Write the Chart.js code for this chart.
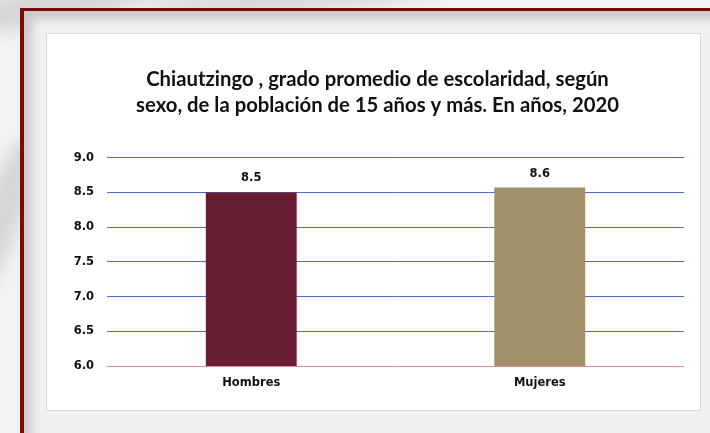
<!DOCTYPE html>
<html>
<head>
<meta charset="utf-8">
<script src="https://cdn.jsdelivr.net/npm/chart.js@4.4.1/dist/chart.umd.min.js"></script>
<style>
    html, body { margin: 0; padding: 0; }
    body {
        width: 710px; height: 433px; overflow: hidden; position: relative;
        background: #f4f2f2;
    }
    .swoosh {
        position: absolute; border-radius: 50%; filter: blur(8px);
        background: rgba(150, 150, 150, 0.3);
    }
    .frame {
        position: absolute; left: 20px; top: 8px; width: 720px; height: 460px;
        border-left: 4px solid #7d0a0a; border-top: 3px solid #7d0a0a;
        background: #f1efef;
        box-shadow: inset 8px 8px 10px rgba(0, 0, 0, 0.16);
    }
    .box {
        position: absolute; left: 46px; top: 33px; width: 655px; height: 378px;
        background: #fff; border: 1px solid #d9d9d9; box-sizing: border-box;
    }
    canvas { display: block; }
</style>
</head>
<body>
<div class="swoosh" style="left:-60px; top:-20px; width:260px; height:40px; transform:rotate(-12deg);"></div>
<div class="swoosh" style="left:-20px; top:130px; width:40px; height:180px; transform:rotate(20deg);"></div>
<div class="swoosh" style="left:150px; top:-15px; width:300px; height:25px; transform:rotate(-4deg);"></div>
<div class="frame"></div>
<div class="box"><canvas id="chart" width="653" height="376"></canvas></div>
<script>
const categories = ['Hombres', 'Mujeres'];
const values = [8.5, 8.57];
const valueLabels = ['8.5', '8.6'];
const barColors = ['#6a1e34', '#9f906a'];
const titleLines = ['Chiautzingo , grado promedio de escolaridad, según', 'sexo, de la población de 15 años y más. En años, 2020'];

// small plugin to write the value over each bar
const barValues = {
    id: 'barValues',
    afterDatasetsDraw(chart) {
        const ctx = chart.ctx;
        const meta = chart.getDatasetMeta(0);
        ctx.save();
        ctx.font = 'bold 11.5px "DejaVu Sans"';
        ctx.fillStyle = '#111';
        ctx.textAlign = 'center';
        ctx.textBaseline = 'middle';
        meta.data.forEach((bar, i) => {
            ctx.fillText(valueLabels[i], bar.x, bar.y - 14);
        });
        ctx.restore();
    }
};

const ctx = document.getElementById('chart').getContext('2d');
const chart = new Chart(ctx, {
    type: 'bar',
    data: {
        labels: categories,
        datasets: [{
            data: values,
            backgroundColor: barColors,
            borderWidth: 0,
            categoryPercentage: 1,
            barPercentage: 0.315
        }]
    },
    options: {
        responsive: false,
        animation: false,
        devicePixelRatio: 1,
        layout: { padding: { top: 0, right: 16, bottom: 0, left: 24 } },
        plugins: {
            legend: { display: false },
            tooltip: { enabled: false },
            title: {
                display: true,
                text: titleLines,
                color: '#111',
                font: { family: 'Lato', size: 20.3, weight: 'bold', lineHeight: 1.25 },
                padding: { top: 33, bottom: 40 }
            }
        },
        scales: {
            y: {
                min: 6, max: 9,
                afterFit(scale) { scale.width = 36; },
                ticks: {
                    stepSize: 0.5,
                    padding: 13,
                    color: '#111',
                    font: { family: 'DejaVu Sans', size: 11.5, weight: 'bold' },
                    callback: v => v.toFixed(1)
                },
                grid: {
                    drawTicks: false,
                    color: c => c.tick.value === 6 ? '#e0889a' : '#5868c4',
                    lineWidth: 1
                },
                border: { display: false }
            },
            x: {
                afterFit(scale) { scale.height = 44; },
                ticks: {
                    padding: 10,
                    color: '#111',
                    font: { family: 'DejaVu Sans', size: 11.5, weight: 'bold' }
                },
                grid: { display: false, drawTicks: false },
                border: { display: false }
            }
        }
    },
    plugins: [barValues]
});
</script>
</body>
</html>
